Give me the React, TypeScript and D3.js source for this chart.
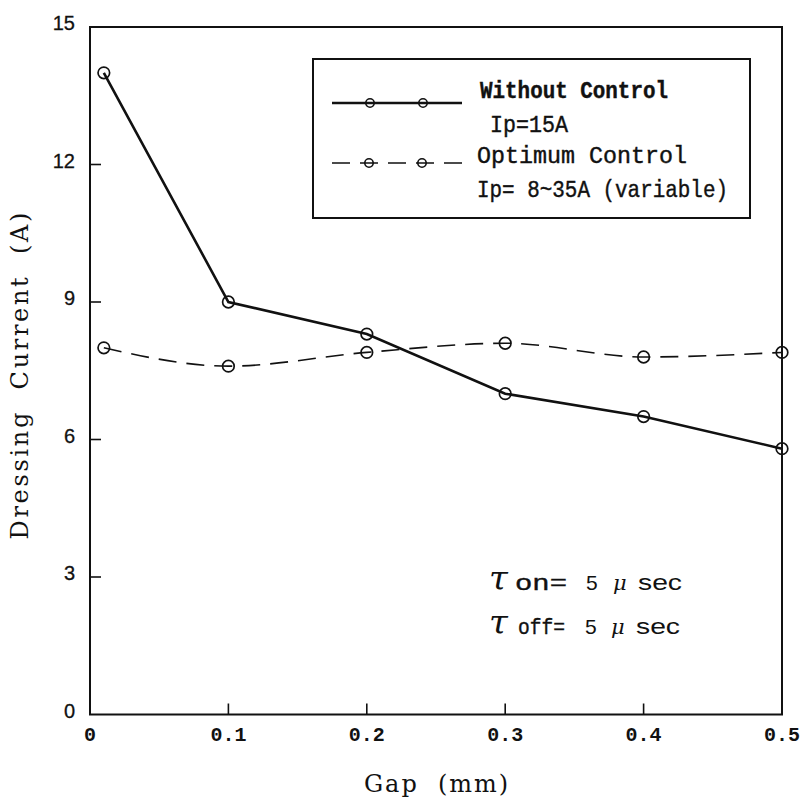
import React from "react";
import * as d3 from "d3";

// Gap settings (mm) and measured dressing current (A)
const gaps = [0.01, 0.1, 0.2, 0.3, 0.4, 0.5];
const withoutControl = [14.0, 9.0, 8.3, 7.0, 6.5, 5.8];
const optimumControl = [8.0, 7.6, 7.9, 8.1, 7.8, 7.9];

const xTicks = [0, 0.1, 0.2, 0.3, 0.4, 0.5];
const yTicks = [0, 3, 6, 9, 12, 15];

const legendLabels = [
  ["Without Control", "Ip=15A"],
  ["Optimum Control", "Ip= 8~35A (variable)"],
];

const W = 802;
const H = 801;
const left = 90;
const right = 782;
const top = 27;
const bottom = 714.5;

const monoFont = "'Liberation Mono', 'DejaVu Sans Mono', monospace";
const serifFont = "'DejaVu Serif', 'Liberation Serif', serif";
const sansFont = "'Liberation Sans', Arial, sans-serif";

export default function App() {
  const x = d3.scaleLinear().domain([0, 0.5]).range([left, right]);
  const y = d3.scaleLinear().domain([0, 15]).range([bottom, top]);

  const solidPath = d3
    .line<number>()
    .x((_, i) => x(gaps[i]))
    .y((d) => y(d))
    .curve(d3.curveLinear)(withoutControl) as string;

  const dashedPath = d3
    .line<number>()
    .x((_, i) => x(gaps[i]))
    .y((d) => y(d))
    .curve(d3.curveMonotoneX)(optimumControl) as string;

  const tick = 11;

  return (
    <svg
      width={W}
      height={H}
      viewBox={`0 0 ${W} ${H}`}
      style={{ position: "absolute", left: 0, top: 0, background: "#fff" }}
    >
      <rect x={0} y={0} width={W} height={H} fill="#fff" />

      {/* frame */}
      <rect
        x={left}
        y={top}
        width={right - left}
        height={bottom - top}
        fill="none"
        stroke="#111"
        strokeWidth={2}
      />

      {/* y ticks and labels */}
      {yTicks.map((t) => (
        <g key={`y${t}`}>
          {t > 0 && t < 15 && (
            <line x1={left} x2={left + tick} y1={y(t)} y2={y(t)} stroke="#111" strokeWidth={1.6} />
          )}
          <text
            x={75}
            y={y(t) - 4}
            textAnchor="end"
            dominantBaseline="central"
            fontFamily={sansFont}
            fontSize={20}
            stroke="#111"
            strokeWidth={0.3}
            fill="#111"
          >
            {t}
          </text>
        </g>
      ))}

      {/* x ticks and labels */}
      {xTicks.map((t) => (
        <g key={`x${t}`}>
          {t > 0 && t < 0.5 && (
            <line x1={x(t)} x2={x(t)} y1={bottom} y2={bottom - tick} stroke="#111" strokeWidth={1.6} />
          )}
          <text
            x={x(t)}
            y={735}
            textAnchor="middle"
            dominantBaseline="central"
            fontFamily={monoFont}
            fontSize={20}
            fontWeight="bold"
            fill="#111"
          >
            {t === 0 ? "0" : t.toFixed(1)}
          </text>
        </g>
      ))}

      {/* axis titles */}
      <text
        x={436}
        y={792}
        textAnchor="middle"
        fontFamily={serifFont}
        fontSize={24}
        fill="#111"
        textLength={144}
        lengthAdjust="spacing"
        style={{ whiteSpace: "pre" }}
      >
        {"Gap  (mm)"}
      </text>
      <text
        transform={`translate(28, 376) rotate(-90)`}
        textAnchor="middle"
        fontFamily={serifFont}
        fontSize={24}
        fill="#111"
        textLength={327}
        lengthAdjust="spacing"
        style={{ whiteSpace: "pre" }}
      >
        {"Dressing  Current  (A)"}
      </text>

      {/* series */}
      <path d={solidPath} fill="none" stroke="#111" strokeWidth={2.6} />
      <path d={dashedPath} fill="none" stroke="#111" strokeWidth={1.6} strokeDasharray="18 10" />
      {withoutControl.map((v, i) => (
        <circle key={`s${i}`} cx={x(gaps[i])} cy={y(v)} r={5.8} fill="none" stroke="#111" strokeWidth={1.7} />
      ))}
      {optimumControl.map((v, i) => (
        <circle key={`d${i}`} cx={x(gaps[i])} cy={y(v)} r={5.8} fill="none" stroke="#111" strokeWidth={1.7} />
      ))}

      {/* legend */}
      <rect x={313} y={59} width={437} height={159} fill="#fff" stroke="#111" strokeWidth={2} />
      <line x1={332} x2={462} y1={103} y2={103} stroke="#111" strokeWidth={2.4} />
      <circle cx={370} cy={103} r={4.2} fill="none" stroke="#111" strokeWidth={1.6} />
      <circle cx={423} cy={103} r={4.2} fill="none" stroke="#111" strokeWidth={1.6} />
      <line x1={332} x2={462} y1={163} y2={163} stroke="#111" strokeWidth={1.5} strokeDasharray="18 10" />
      <circle cx={369} cy={163} r={4.2} fill="none" stroke="#111" strokeWidth={1.6} />
      <circle cx={422} cy={163} r={4.2} fill="none" stroke="#111" strokeWidth={1.6} />

      <g fontFamily={monoFont} fontSize={23} fill="#111" stroke="#111" strokeWidth={0.4}>
        <text x={480} y={98} textLength={188} lengthAdjust="spacingAndGlyphs" fontWeight="bold">
          {legendLabels[0][0]}
        </text>
        <text x={490} y={132} textLength={78} lengthAdjust="spacingAndGlyphs">
          {legendLabels[0][1]}
        </text>
        <text x={477} y={163} textLength={210} lengthAdjust="spacingAndGlyphs">
          {legendLabels[1][0]}
        </text>
        <text x={477} y={197} textLength={251} lengthAdjust="spacingAndGlyphs">
          {legendLabels[1][1]}
        </text>
      </g>

      {/* pulse timing annotation */}
      <g fill="#111">
        <text x={489} y={590} fontFamily={serifFont} fontSize={34} fontStyle="italic">τ</text>
        <text x={515} y={590} fontFamily={monoFont} fontSize={22} stroke="#111" strokeWidth={0.4}
          textLength={52} lengthAdjust="spacingAndGlyphs">on=</text>
        <text x={586} y={590} fontFamily={sansFont} fontSize={21}>5</text>
        <text x={613} y={590} fontFamily={serifFont} fontSize={21} fontStyle="italic">μ</text>
        <text x={638} y={590} fontFamily={sansFont} fontSize={22} textLength={44} lengthAdjust="spacingAndGlyphs">sec</text>

        <text x={489} y={634} fontFamily={serifFont} fontSize={34} fontStyle="italic">τ</text>
        <text x={518} y={634} fontFamily={monoFont} fontSize={22} stroke="#111" strokeWidth={0.4}
          textLength={47} lengthAdjust="spacingAndGlyphs">off=</text>
        <text x={585} y={634} fontFamily={sansFont} fontSize={21}>5</text>
        <text x={611} y={634} fontFamily={serifFont} fontSize={21} fontStyle="italic">μ</text>
        <text x={636} y={634} fontFamily={sansFont} fontSize={22} textLength={44} lengthAdjust="spacingAndGlyphs">sec</text>
      </g>
    </svg>
  );
}
